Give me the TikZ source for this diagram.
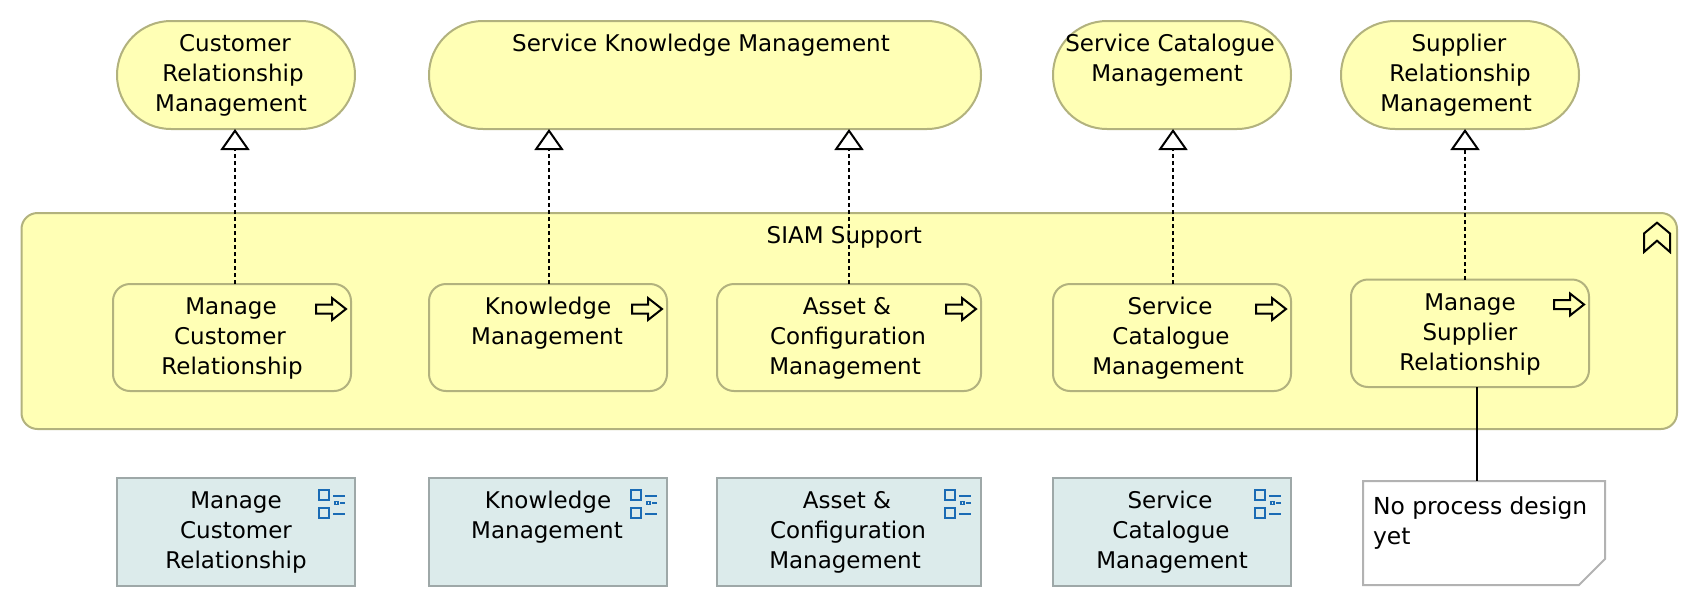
\documentclass[tikz,border=0pt]{standalone}
\usepackage{fontspec}
\setmainfont{DejaVu Sans}
\usetikzlibrary{arrows.meta}
\definecolor{archiyellow}{HTML}{FFFFB5}
\definecolor{yellowline}{HTML}{B2B27E}
\definecolor{bluefill}{HTML}{DCEBEB}
\definecolor{blueline}{HTML}{9EA8A8}
\definecolor{noteline}{HTML}{B2B2B2}
\definecolor{iconblue}{HTML}{1A6BB5}
\newcommand{\dfont}{\fontsize{23}{30}\selectfont}
% shift one centred line to the left or right by #1 pt
\newcommand{\sh}[1]{\hspace*{#1pt}\hspace*{#1pt}}
% #1 dx, #2 style, #3 name, #4-#7 x1 y1 x2 y2, #8 text
\newcommand{\bx}[8][0]{%
  \pgfmathsetmacro{\bw}{#6-#4}\pgfmathsetmacro{\bh}{#7-#5}%
  \pgfmathsetmacro{\cx}{(#4+#6)/2}\pgfmathsetmacro{\cy}{(#5+#7)/2}%
  \node[#2,minimum width=\bw pt,minimum height=\bh pt] (#3) at (\cx,\cy)
    {\parbox[c][\bh pt][t]{\bw pt}{\vspace*{9.5pt}\dfont\centering\sh{#1}\strut #8\par}};%
}
\newcommand{\arrowicon}[1]{%
  \begin{scope}[shift={(#1.north east)}]
    \draw[iconline] (-35,20.5) -- (-19,20.5) -- (-19,14) -- (-5,25) -- (-19,36) -- (-19,29.5) -- (-35,29.5) -- cycle;
  \end{scope}}
\newcommand{\funcicon}[1]{%
  \begin{scope}[shift={(#1.north east)},line width=2pt,iconblue]
    \draw (-36,12) rectangle (-26,22);
    \draw (-36,30) rectangle (-26,40);
    \draw (-22,18) -- (-10,18);
    \draw (-22,36) -- (-10,36);
    \draw[line width=1.6pt] (-20,24) rectangle (-17,27);
    \draw (-15,25.5) -- (-10,25.5);
  \end{scope}}
\tikzset{
  base/.style={inner sep=0pt,outer sep=0pt,line width=2pt,text=black},
  stadium/.style={base,draw=yellowline,fill=archiyellow,rounded corners=53.9pt},
  groupbox/.style={base,draw=yellowline,fill=archiyellow,rounded corners=16pt},
  procbox/.style={base,draw=yellowline,fill=archiyellow,rounded corners=17pt},
  funcbox/.style={base,draw=blueline,fill=bluefill},
  iconline/.style={draw=black,line width=2pt,line join=miter},
  real/.style={draw=black,line width=2pt,dash pattern=on 4pt off 3pt,
    -{Triangle[length=21pt,width=29pt,fill=white,line width=2pt,sep=0pt]}},
  assoc/.style={draw=black,line width=2pt},
}
\begin{document}
\begin{tikzpicture}[x=1pt,y=-1pt]
\useasboundingbox (0,0) rectangle (1698,606);
% Top services
\bx[-1]{stadium}{S1}{117}{21}{355}{129}{Customer\\\sh{-3}Relationship\\\sh{-5}Management}
\bx[-4]{stadium}{S2}{429}{21}{981}{129}{Service Knowledge Management}
\bx[-2]{stadium}{S3}{1053}{21}{1291}{129}{Service Catalogue\\\sh{-5}Management}
\bx[-1]{stadium}{S4}{1341}{21}{1579}{129}{Supplier\\Relationship\\\sh{-4}Management}
% Group
\bx[-5]{groupbox}{G}{21.5}{213}{1677}{429}{SIAM Support}
\draw[iconline] (1644,233.5) -- (1657,222.7) -- (1670,233.5) -- (1670,252) -- (1657,240.7) -- (1644,252) -- cycle;
% Processes
\bx[-1]{procbox}{P1}{113}{284}{351}{391}{Manage\\\sh{-2}Customer\\Relationship}
\bx{procbox}{P2}{429}{284}{667}{391}{Knowledge\\\sh{-1}Management}
\bx[-2]{procbox}{P3}{717}{284}{981}{391}{Asset \&\\\sh{-1}Configuration\\\sh{-4}Management}
\bx[-2]{procbox}{P4}{1053}{284}{1291}{391}{Service\\\sh{-1}Catalogue\\\sh{-4}Management}
\bx{procbox}{P5}{1351}{279.5}{1589}{387}{Manage\\Supplier\\Relationship}
\arrowicon{P1}\arrowicon{P2}\arrowicon{P3}\arrowicon{P4}\arrowicon{P5}
% Functions
\bx{funcbox}{B1}{117}{477.5}{355}{585.5}{Manage\\Customer\\Relationship}
\bx{funcbox}{B2}{429}{477.5}{667}{585.5}{Knowledge\\\sh{-1}Management}
\bx[-2]{funcbox}{B3}{717}{477.5}{981}{585.5}{Asset \&\\\sh{-1}Configuration\\\sh{-4}Management}
\bx[-2]{funcbox}{B4}{1053}{477.5}{1291}{585.5}{Service\\\sh{-1}Catalogue\\Management}
\funcicon{B1}\funcicon{B2}\funcicon{B3}\funcicon{B4}
% Note
\node[base,minimum width=242pt,minimum height=104pt] (N) at (1484,533)
  {\parbox[c][104pt][t]{242pt}{\vspace*{12.5pt}\fontsize{23.4}{30}\selectfont\hspace*{10pt}\strut No process design\\\hspace*{10pt}\strut yet\par}};
\draw[noteline,line width=2pt] (N.north west) -- (N.north east) -- ([yshift=26pt]N.south east)
  -- ([xshift=-26pt]N.south east) -- (N.south west) -- cycle;
% Connectors
\coordinate (c1) at (235,0);
\coordinate (c2) at (549,0);
\coordinate (c3) at (849,0);
\coordinate (c4) at (1173,0);
\coordinate (c5) at (1465,0);
\coordinate (c6) at (1477,0);
\draw[real] (P1.north -| c1) -- (S1.south -| c1);
\draw[real] (P2.north -| c2) -- (S2.south -| c2);
\draw[real] (P3.north -| c3) -- (S2.south -| c3);
\draw[real] (P4.north -| c4) -- (S3.south -| c4);
\draw[real] (P5.north -| c5) -- (S4.south -| c5);
\draw[assoc] (P5.south -| c6) -- (N.north -| c6);
\end{tikzpicture}
\end{document}
